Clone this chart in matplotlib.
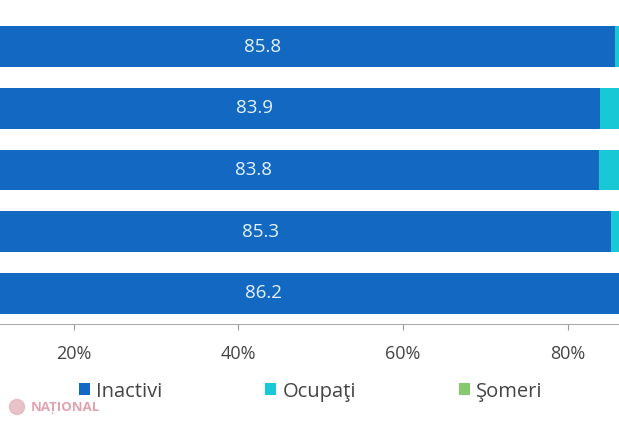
import matplotlib
matplotlib.use("Agg")
import matplotlib.pyplot as plt
from matplotlib.patches import Patch, Ellipse
import numpy as np

# rows (top to bottom); row names are not shown in the crop
rows = ["r1", "r2", "r3", "r4", "r5"]
inactivi = [85.8, 83.9, 83.8, 85.3, 86.2]
ocupati = [13.6, 15.4, 15.6, 14.2, 13.4]
someri = [0.6, 0.7, 0.6, 0.5, 0.4]
series_names = ["Inactivi", "Ocupaţi", "Şomeri"]
ticks = [20, 40, 60, 80]
tick_labels = ["20%", "40%", "60%", "80%"]

colors = ["#1369c2", "#18c8d4", "#86c96f"]
plt.rcParams["font.family"] = ["Open Sans", "DejaVu Sans"]

fig = plt.figure(figsize=(6.19, 4.21), dpi=100)
ax = fig.add_axes([0, 0.2297, 1, 0.7328])

y = np.arange(len(rows))
left = np.zeros(len(rows))
for vals, c in zip([inactivi, ocupati, someri], colors):
    ax.barh(y, vals, left=left, height=0.66, color=c, linewidth=0)
    left = left + np.array(vals)

for yi, v in zip(y, inactivi):
    ax.text(v / 2, yi, f"{v:.1f}", ha="center", va="center",
            color="#e6f2ff", fontsize=13.5)

ax.set_xlim(11.05, 86.24)
ax.set_ylim(4.5, -0.5)
ax.set_yticks([])
ax.set_xticks(ticks)
ax.set_xticklabels(tick_labels)
ax.tick_params(axis="x", length=4, width=0.8, color="#999999",
               labelcolor="#444444", labelsize=13, pad=11)
for s in ["top", "left", "right"]:
    ax.spines[s].set_visible(False)
ax.spines["bottom"].set_color("#aaaaaa")
ax.spines["bottom"].set_linewidth(0.8)

handles = [Patch(facecolor=c, edgecolor="none") for c in colors]
fig.legend(handles, series_names, loc="center", bbox_to_anchor=(0.502, 0.07),
           ncol=3, frameon=False, fontsize=14.5, handlelength=0.55,
           handleheight=0.55, handletextpad=0.3, columnspacing=5.1,
           labelcolor="#444444")

# watermark
fig.add_artist(Ellipse((17 / 619, 1 - 407 / 421), 15 / 619, 15 / 421,
                       transform=fig.transFigure, color="#e3b4bc", alpha=0.8))
fig.text(31 / 619, 1 - 407 / 421, "NAȚIONAL", color="#e3a3ae", fontsize=9.5,
         fontweight="bold", va="center", ha="left")

fig.savefig("out.png", dpi=100)
